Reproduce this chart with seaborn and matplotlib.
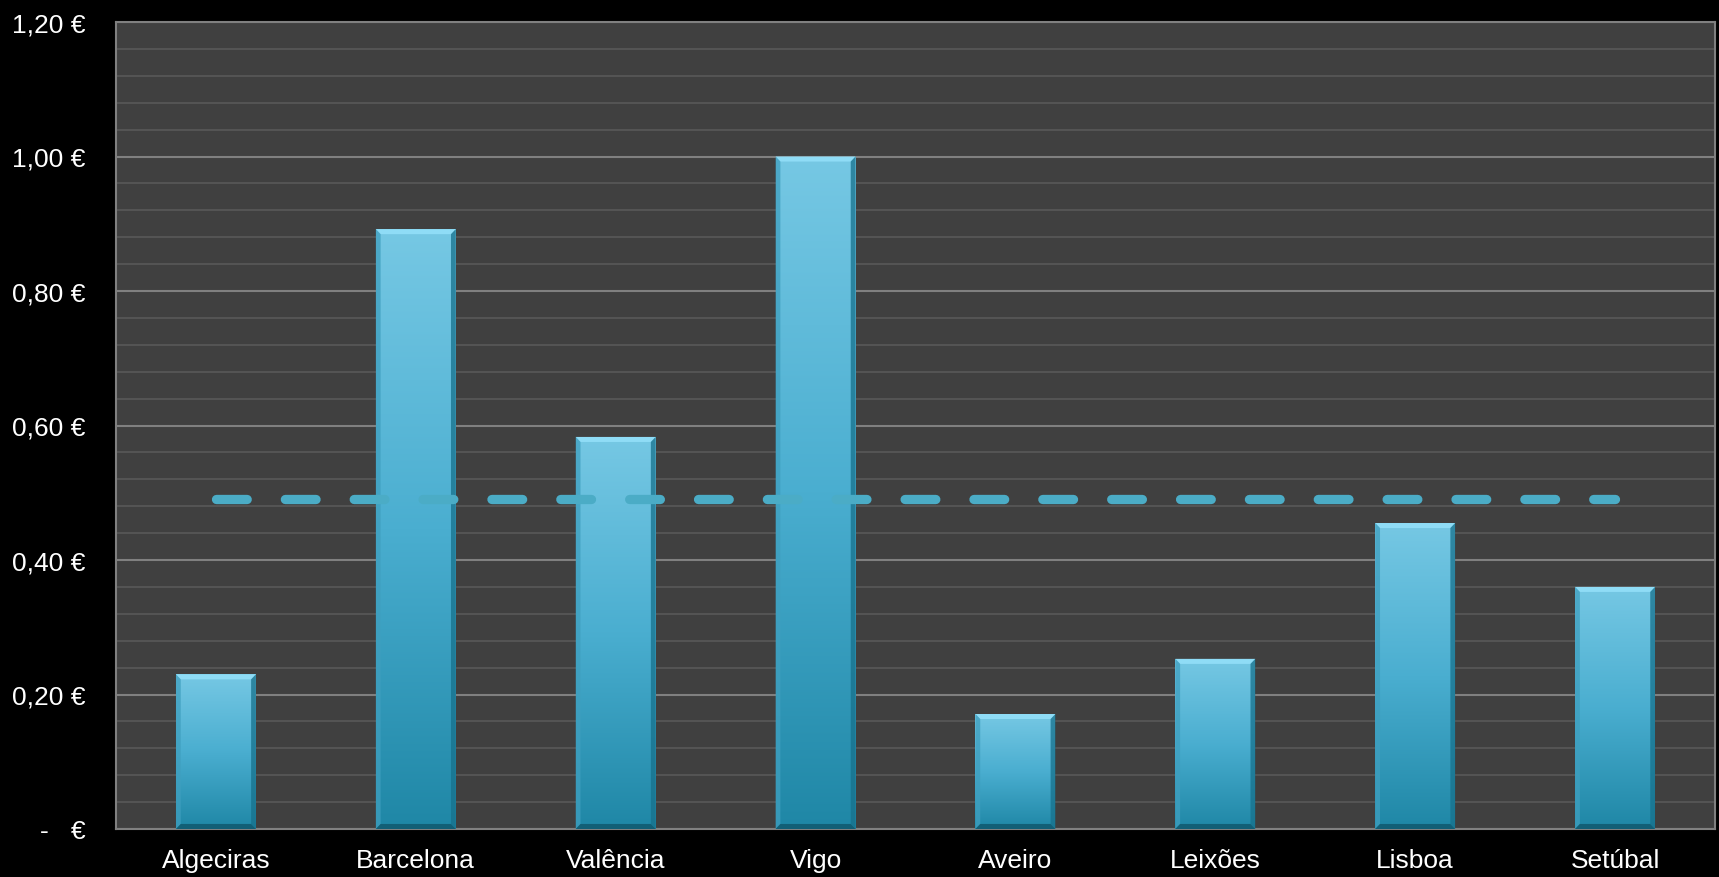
import numpy as np
import pandas as pd
import matplotlib
matplotlib.use("Agg")
import matplotlib.pyplot as plt
from matplotlib.patches import Polygon
from matplotlib.colors import LinearSegmentedColormap
from matplotlib.ticker import MultipleLocator, FixedLocator, FixedFormatter
import seaborn as sns

# Port cost per unit (EUR)
ports = ["Algeciras", "Barcelona", "Valência", "Vigo", "Aveiro", "Leixões", "Lisboa", "Setúbal"]
cost = [0.23, 0.892, 0.583, 1.00, 0.171, 0.253, 0.455, 0.36]
average = [0.49, 0.49, 0.49, 0.49, 0.49, 0.49, 0.49, 0.49]

y_ticks = [0.0, 0.2, 0.4, 0.6, 0.8, 1.0, 1.2]
y_tick_labels = ["-   €", "0,20 €", "0,40 €", "0,60 €", "0,80 €", "1,00 €", "1,20 €"]

sns.set_theme(style="dark")
plt.rcParams["font.family"] = ["Liberation Sans", "DejaVu Sans"]

W, H = 1719, 878
fig = plt.figure(figsize=(W / 100, H / 100), dpi=100, facecolor="black")
ax = fig.add_axes([116 / W, (H - 830) / H, 1599 / W, 807 / H])
ax.set_facecolor("#404040")

df = pd.DataFrame({"port": ports, "cost": cost})
sns.barplot(data=df, x="port", y="cost", color="#4bacc6", width=0.4,
            saturation=1, ax=ax, zorder=3)

ax.set_xlim(-0.5, len(ports) - 0.5)
ax.set_ylim(0, 1.2)

# gridlines: light major every 0.20, dark minor every 0.04
ax.yaxis.set_major_locator(FixedLocator(y_ticks))
ax.yaxis.set_major_formatter(FixedFormatter(y_tick_labels))
ax.yaxis.set_minor_locator(MultipleLocator(0.04))
ax.grid(False)
ax.grid(axis="y", which="minor", color="#575757", linewidth=1.3, zorder=1)
ax.grid(axis="y", which="major", color="#808080", linewidth=1.5, zorder=1)
ax.set_axisbelow(True)

for s in ax.spines.values():
    s.set_visible(True)
    s.set_color("#808080")
    s.set_linewidth(1.5)

ax.set_xlabel("")
ax.set_ylabel("")
ax.tick_params(axis="both", which="both", length=0, colors="white", labelsize=19)
ax.tick_params(axis="y", pad=22)
ax.tick_params(axis="x", pad=14)

# gradient fill with a bevelled rim on every bar
grad = LinearSegmentedColormap.from_list("bar", ["#1f87a6", "#4aaed0", "#76c8e4"])
bx = 0.024   # bevel width in category units
by = 0.0075  # bevel height in data units
for p in ax.patches:
    x0, y0 = p.get_x(), p.get_y()
    w, h = p.get_width(), p.get_height()
    x1, y1 = x0 + w, y0 + h
    p.set_edgecolor("none")
    img = ax.imshow(np.linspace(0, 1, 256).reshape(-1, 1), cmap=grad, origin="lower",
                    extent=[x0, x1, y0, y1], aspect="auto", zorder=3.1,
                    interpolation="bicubic")
    img.set_clip_path(p)
    ax.add_patch(Polygon([[x0, y1], [x1, y1], [x1 - bx, y1 - by], [x0 + bx, y1 - by]],
                         closed=True, facecolor="#8fdcf6", edgecolor="none", zorder=3.2))
    ax.add_patch(Polygon([[x0, y0], [x0, y1], [x0 + bx, y1 - by], [x0 + bx, y0 + by]],
                         closed=True, facecolor="#3f9fbf", edgecolor="none", alpha=0.75, zorder=3.2))
    ax.add_patch(Polygon([[x1, y0], [x1, y1], [x1 - bx, y1 - by], [x1 - bx, y0 + by]],
                         closed=True, facecolor="#17718c", edgecolor="none", alpha=0.75, zorder=3.2))
    ax.add_patch(Polygon([[x0, y0], [x1, y0], [x1 - bx, y0 + by], [x0 + bx, y0 + by]],
                         closed=True, facecolor="#125f76", edgecolor="none", zorder=3.2))

# average line
line, = ax.plot(range(len(ports)), average, color="#4bacc6", linewidth=6.7,
                solid_capstyle="round", dash_capstyle="round", zorder=4)
line.set_dashes([3.3, 4.1])

ax.set_xticks(range(len(ports)))
ax.set_xticklabels(ports)

fig.savefig("out.png", dpi=100, facecolor="black")
